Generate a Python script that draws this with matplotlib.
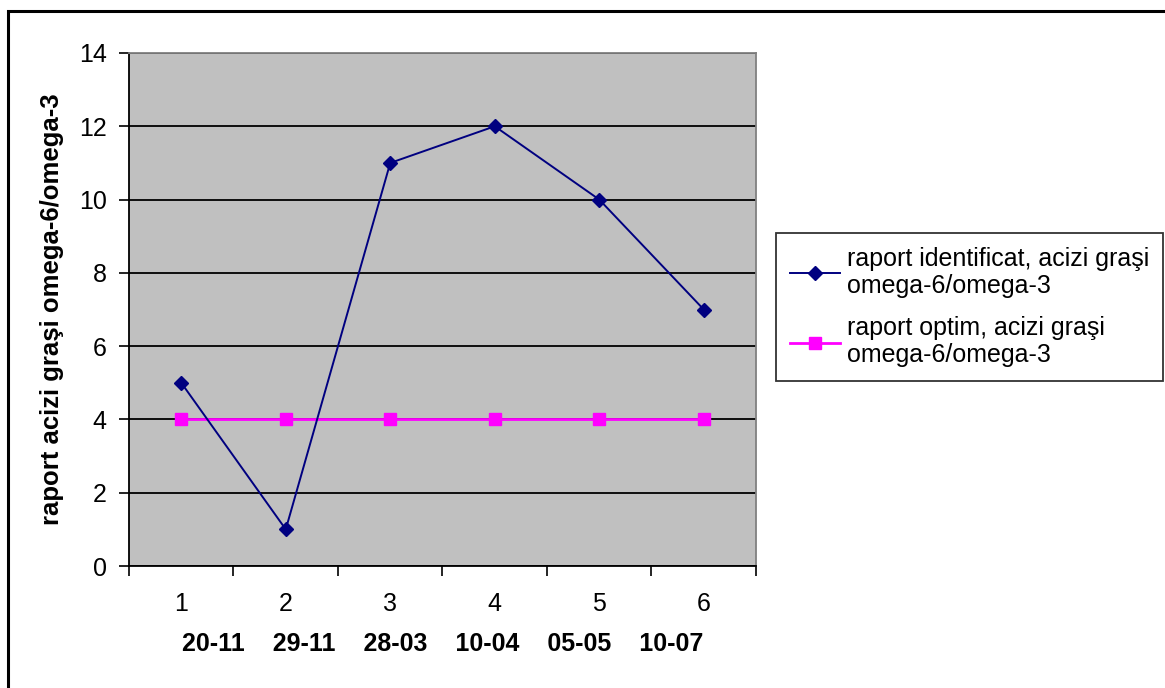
import matplotlib
matplotlib.use("Agg")
import matplotlib.pyplot as plt
from matplotlib.patches import Rectangle
from matplotlib.ticker import FixedLocator, NullFormatter

plt.rcParams['font.family'] = ['Liberation Sans', 'DejaVu Sans']

samples = [1, 2, 3, 4, 5, 6]
dates = ["20-11", "29-11", "28-03", "10-04", "05-05", "10-07"]
ratio_identified = [5, 1, 11, 12, 10, 7]
ratio_optimal = [4, 4, 4, 4, 4, 4]
label_identified = "raport identificat, acizi graşi\nomega-6/omega-3"
label_optimal = "raport optim, acizi graşi\nomega-6/omega-3"
y_title = "raport acizi graşi omega-6/omega-3"

FS = 18
W, H = 1165, 688
fig = plt.figure(figsize=(W / 100, H / 100), dpi=100)

# Outer chart frame
fig.patches.append(Rectangle((8 / W, -0.05), 1.2, 1 - 11 / H + 0.05,
                             transform=fig.transFigure, fill=False,
                             edgecolor="black", linewidth=2.2))

ax = fig.add_axes([129 / W, 1 - 566 / H, (756 - 129) / W, (566 - 53) / H])
ax.set_facecolor("#C0C0C0")

ax.plot(samples, ratio_identified, color="#000080", linewidth=1.4,
        marker="D", markersize=7.5, markerfacecolor="#000080",
        markeredgecolor="#000080", label=label_identified, zorder=4)
ax.plot(samples, ratio_optimal, color="#FF00FF", linewidth=2.0,
        marker="s", markersize=8.5, markerfacecolor="#FF00FF",
        markeredgecolor="#FF00FF", label=label_optimal, zorder=3)

ax.set_xlim(0.5, 6.5)
ax.set_ylim(0, 14)
ax.set_yticks(range(0, 15, 2))
ax.yaxis.grid(True, color="black", linewidth=1.3)
ax.set_axisbelow(True)

ax.set_xticks(samples)
ax.set_xticklabels([str(s) for s in samples])
ax.xaxis.set_minor_locator(FixedLocator([i + 0.5 for i in range(0, 7)]))
ax.xaxis.set_minor_formatter(NullFormatter())
ax.tick_params(axis="x", which="major", length=0, pad=19, labelsize=FS)
ax.tick_params(axis="x", which="minor", length=7, width=1.2, direction="out")
ax.tick_params(axis="y", length=7, width=1.2, direction="out", labelsize=FS, pad=9)

for side in ("top", "right"):
    ax.spines[side].set_color("#808080")
    ax.spines[side].set_linewidth(1.3)
for side in ("left", "bottom"):
    ax.spines[side].set_color("black")
    ax.spines[side].set_linewidth(1.3)

ax.set_ylabel(y_title, fontsize=18.5, fontweight="bold", labelpad=11)
ax.set_xlabel("    ".join(dates), fontsize=FS, fontweight="bold", labelpad=11)

leg = fig.legend(loc="upper left", bbox_to_anchor=(776 / W, 1 - 233 / H),
                 fontsize=FS, frameon=True, fancybox=False, edgecolor="black",
                 handlelength=2.0, handletextpad=0.3, borderpad=0.55,
                 labelspacing=0.75, borderaxespad=0)
leg.get_frame().set_linewidth(1.3)
for t in leg.get_texts():
    t.set_linespacing(1.15)

fig.savefig("out.png", dpi=100, facecolor="white")
